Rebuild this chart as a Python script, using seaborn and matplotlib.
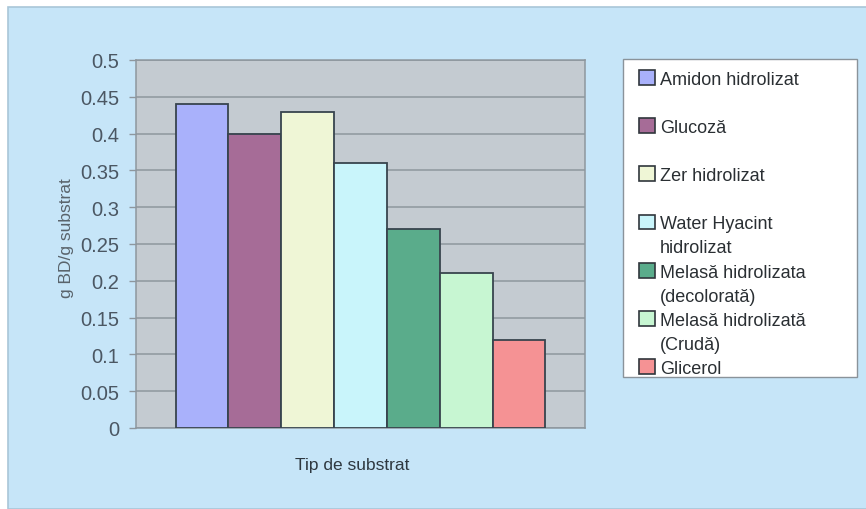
import matplotlib
matplotlib.use("Agg")
import matplotlib.pyplot as plt
import matplotlib.patches as mpatches
from matplotlib.ticker import FuncFormatter, MultipleLocator
import seaborn as sns
import pandas as pd

# ---- data ----
categories = ["Amidon hidrolizat", "Glucoză", "Zer hidrolizat",
              "Water Hyacint hidrolizat", "Melasă hidrolizata (decolorată)",
              "Melasă hidrolizată (Crudă)", "Glicerol"]
legend_lines = [["Amidon hidrolizat"], ["Glucoză"], ["Zer hidrolizat"],
                ["Water Hyacint", "hidrolizat"],
                ["Melasă hidrolizata", "(decolorată)"],
                ["Melasă hidrolizată", "(Crudă)"], ["Glicerol"]]
values = [0.44, 0.40, 0.43, 0.36, 0.27, 0.21, 0.12]
colors = ["#a9b1fb", "#a66c97", "#eff6d6", "#c9f5fb", "#5aac8b", "#c7f6d2", "#f59294"]
group = ["Tip de substrat"] * len(values)

df = pd.DataFrame({"grp": group, "cat": categories, "val": values})

sns.set_theme(style="white")
plt.rcParams["font.family"] = ["Liberation Sans", "DejaVu Sans"]

W, H = 866, 510
fig = plt.figure(figsize=(W / 100, H / 100), dpi=100, facecolor="white")
# light-blue chart area
fig.patches.append(mpatches.Rectangle((8 / W, 0), 1, 1 - 8 / H, transform=fig.transFigure,
                                      facecolor="#c6e5f8", edgecolor="#a9c6d8", lw=1.2, zorder=-10))
# legend frame
fig.patches.append(mpatches.Rectangle((623 / W, 1 - 378 / H), 234 / W, 318 / H,
                                      transform=fig.transFigure, facecolor="white",
                                      edgecolor="#8a939a", lw=1.0, zorder=-5))

ax = fig.add_axes([136 / W, 1 - 429 / H, 449 / W, 368 / H])
ax.set_facecolor("#c4cbd1")

sns.barplot(data=df, x="grp", y="val", hue="cat", hue_order=categories,
            palette=colors, width=0.824, edgecolor="#38444e", linewidth=1.3,
            saturation=1, legend=False, ax=ax, zorder=3)

ax.set_ylim(0, 0.5)
ax.set_xlim(-0.5, 0.5)
ax.yaxis.set_major_locator(MultipleLocator(0.05))
ax.yaxis.set_major_formatter(FuncFormatter(lambda v, p: f"{v:.2f}".rstrip("0").rstrip(".") if v else "0"))
ax.grid(axis="y", color="#8e979e", lw=1.1, zorder=0)
ax.set_axisbelow(True)
ax.tick_params(axis="y", which="major", left=True, length=5, width=1, color="#8e979e",
               labelsize=14.5, labelcolor="#4b5763", pad=7)
ax.tick_params(axis="x", bottom=False, labelbottom=False)
for s in ax.spines.values():
    s.set_color("#8e979e")
    s.set_linewidth(1.1)

ax.set_xlabel("Tip de substrat", fontsize=12.5, color="#2e3840")
ax.xaxis.set_label_coords(0.481, -0.078)
ax.set_ylabel("g BD/g substrat", fontsize=12.5, color="#59636b")
ax.yaxis.set_label_coords(-0.138, 0.52)

# ---- legend ----
bar_patches = [p for p in ax.patches if p.get_height() > 0]
handles, labels = [], []
blank = mpatches.Patch(facecolor="none", edgecolor="none")
for i, lines in enumerate(legend_lines):
    fc = bar_patches[i].get_facecolor()
    handles.append(mpatches.Patch(facecolor=fc, edgecolor="#30363c", lw=1.2))
    labels.append(lines[0])
    for extra in lines[1:]:
        handles.append(blank)
        labels.append(extra)
    if len(lines) == 1 and i < 3:
        handles.append(blank)
        labels.append(" ")

leg = fig.legend(handles, labels, loc="upper left",
                 bbox_to_anchor=(639 / W, 1 - 400 / H, 218 / W, (400 - 71) / H),
                 mode="expand", borderaxespad=0, borderpad=0, fontsize=13, frameon=False,
                 handlelength=0.88, handleheight=0.88, handletextpad=0.28, labelspacing=0.36)
for t in leg.get_texts():
    t.set_color("#2a2f33")

fig.savefig("out.png", dpi=100, facecolor=fig.get_facecolor())
